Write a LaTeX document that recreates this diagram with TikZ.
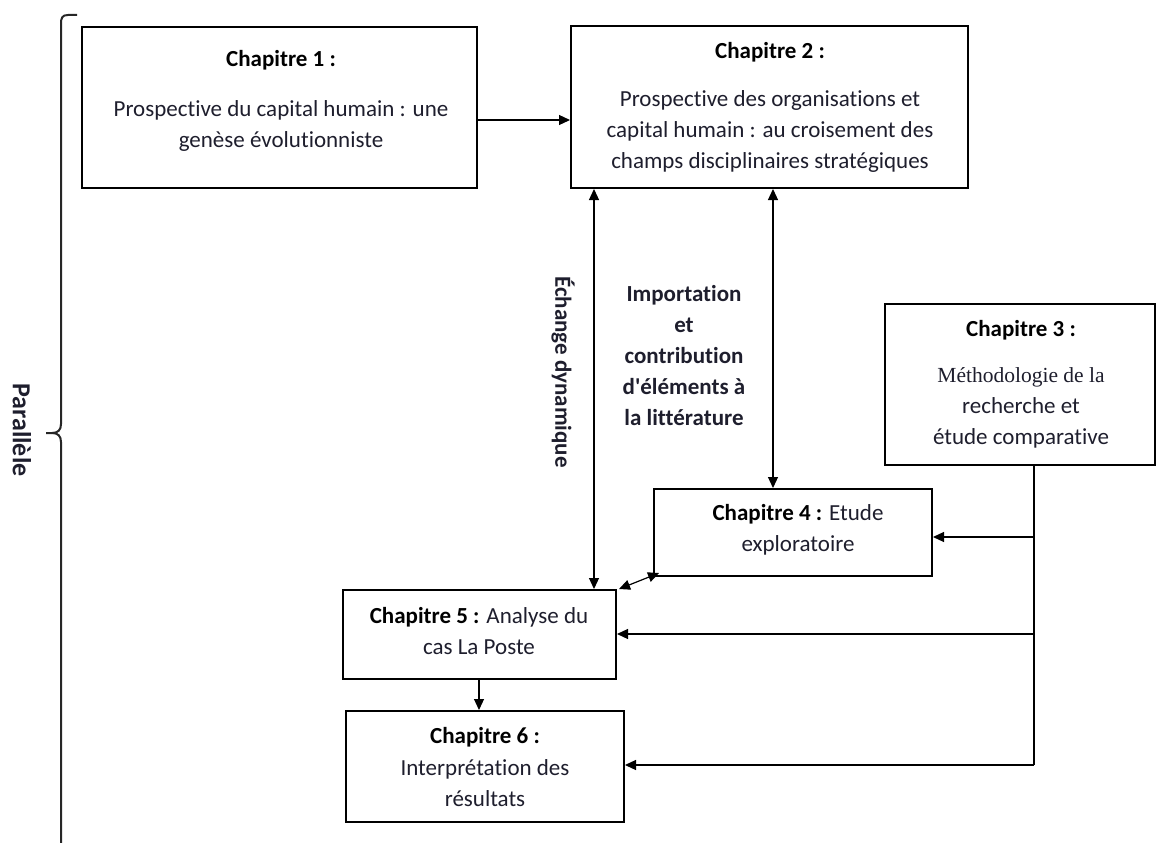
\documentclass[tikz,border=0pt]{standalone}
\usepackage{fontspec}
\setmainfont{Carlito}[Ligatures={NoCommon}]
\newfontfamily\timesf{Liberation Serif}
\usetikzlibrary{arrows.meta}
\definecolor{txtcol}{RGB}{30,30,45}
\tikzset{
  box/.style={draw=black, line width=2pt, inner sep=0pt},
  txt/.style={align=center, inner sep=0pt, text=txtcol, font=\fontsize{23}{31}\selectfont},
  ttl/.style={align=center, inner sep=0pt, text=black, font=\fontsize{23}{31}\selectfont\bfseries},
  conn/.style={draw=black, line width=1.2pt},
  arr/.style={conn, -{Triangle[length=11pt,width=10pt]}},
  darr/.style={conn, {Triangle[length=11pt,width=10pt]}-{Triangle[length=11pt,width=10pt]}},
  brace/.style={draw=black!85, line width=2pt}
}
\begin{document}
\begin{tikzpicture}[x=1pt,y=-1pt]
\useasboundingbox (0,0) rectangle (1157,843);
% boxes
\node[box, minimum width=395pt, minimum height=161pt] (c1) at (279.5,107.5) {};
\node[box, minimum width=397pt, minimum height=162pt] (c2) at (769.5,107) {};
\node[box, minimum width=270pt, minimum height=161pt] (c3) at (1019.5,384.5) {};
\node[box, minimum width=278pt, minimum height=87pt] (c4) at (793,532.5) {};
\node[box, minimum width=273pt, minimum height=89pt] (c5) at (479.5,634.5) {};
\node[box, minimum width=278pt, minimum height=111pt] (c6) at (485,766.5) {};
% texts
\node[ttl] (t1) at (281,60) {Chapitre 1 :};
\node[txt] (b1) at (281,125.5) {Prospective du capital humain : une\\genèse évolutionniste};
\node[ttl] (t2) at (770,52) {Chapitre 2 :};
\node[txt] (b2) at (770,131) {Prospective des organisations et\\capital humain : au croisement des\\champs disciplinaires stratégiques};
\node[ttl] (t3) at (1021,330) {Chapitre 3 :};
\node[txt] (b3) at (1021,408) {{\timesf\fontsize{21.5}{31}\selectfont Méthodologie de la}\\recherche et\\étude comparative};
\node[txt] (b4) at (798,529.5) {\textbf{\color{black}Chapitre 4 :} Etude\\exploratoire};
\node[txt] (b5) at (479,631) {\textbf{\color{black}Chapitre 5 :} Analyse du\\cas La Poste};
\node[ttl] (t6) at (485,737) {Chapitre 6 :};
\node[txt] (b6) at (485,783.5) {Interprétation des\\résultats};
\node[ttl, text=txtcol] (imp) at (684,356) {Importation\\et\\contribution\\d\textquotesingle éléments à\\la littérature};
\node[ttl, text=txtcol, rotate=-90] (ech) at (563,372) {Échange dynamique};
\node[ttl, text=txtcol, rotate=-90, font=\fontsize{26}{31}\selectfont\bfseries] (par) at (22,430) {Parallèle};
% brace
\draw[brace] (77,15) -- (68,15) .. controls (62,15) and (61,18) .. (61,24) -- (61,424)
  .. controls (61,430) and (58,433) .. (52,433) -- (46,433);
\draw[brace] (52,433) .. controls (58,433) and (61,436) .. (61,442) -- (61,843);
% connectors
\draw[arr] (c1.east |- 0,120) -- (c2.west |- 0,120);
\draw[darr] (c2.south -| 594,0) -- (c5.north -| 594,0);
\draw[darr] (c2.south -| 773,0) -- (c4.north -| 773,0);
\draw[darr] ([xshift=2pt]c5.north east) -- ([xshift=6pt,yshift=4pt]c4.south west);
\draw[arr] (c5.south -| 479,0) -- (c6.north -| 479,0);
\coordinate (j) at (1034,765);
\draw[conn] (c3.south -| j) -- (j);
\draw[arr] (1034,537) -- (c4.east |- 0,537);
\draw[arr] (1034,634) -- (c5.east |- 0,634);
\draw[arr] (j) -- (c6.east |- j);
\end{tikzpicture}
\end{document}
